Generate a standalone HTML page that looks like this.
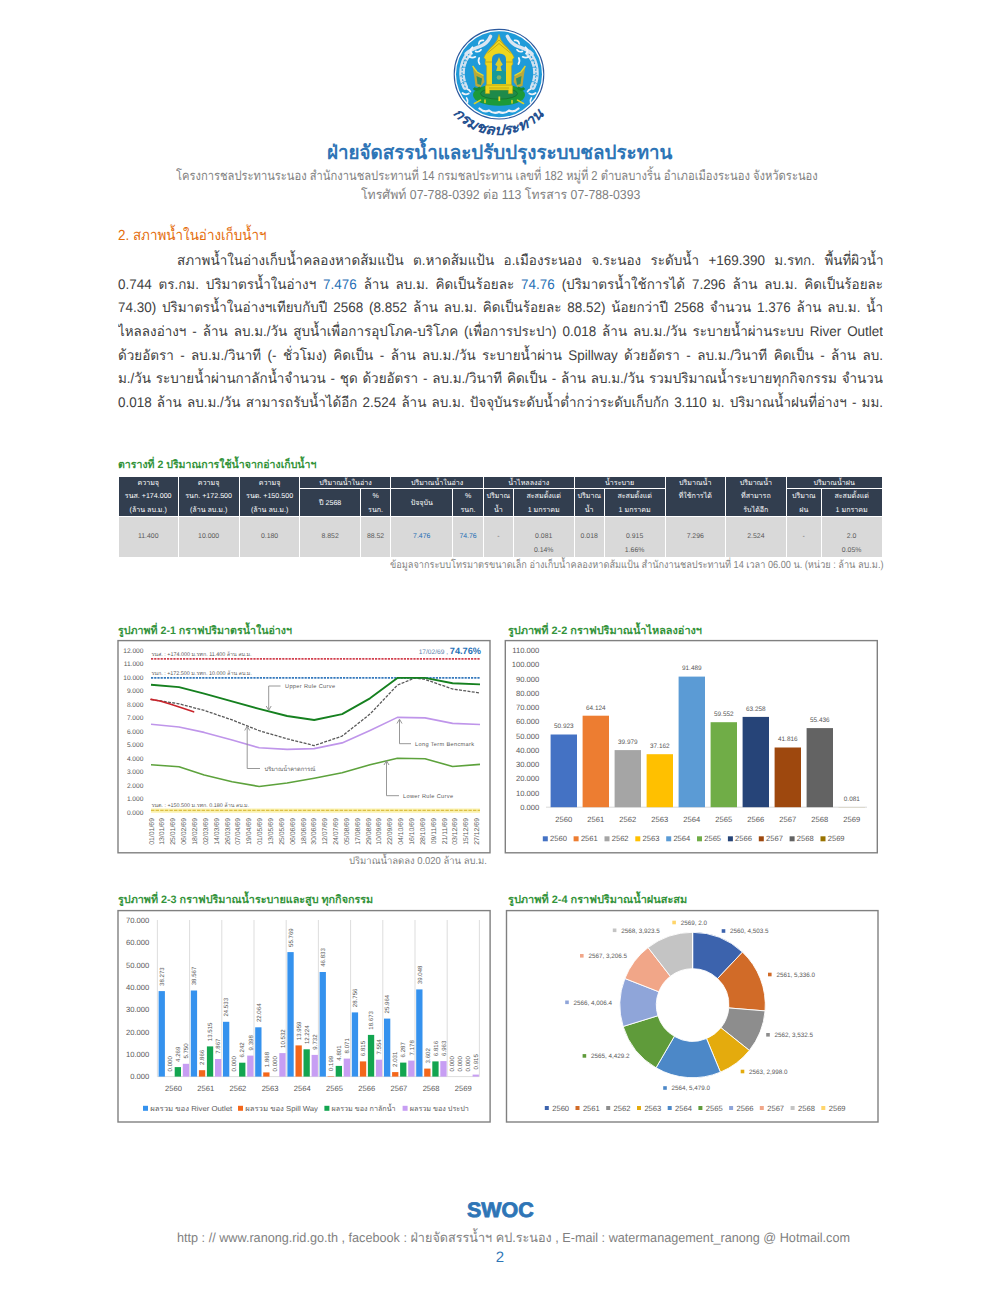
<!DOCTYPE html>
<html lang="th"><head><meta charset="utf-8"><title>SWOC</title>
<style>
html,body{margin:0;padding:0;background:#fff;}
body{width:1000px;height:1293px;position:relative;overflow:hidden;font-family:"Liberation Sans",sans-serif;color:#404040;text-rendering:geometricPrecision;}
.a{position:absolute;white-space:nowrap;line-height:1;}
.c{text-align:center;}
.pl{font-size:14px;color:#404040;text-align:justify;text-align-last:justify;overflow:hidden;height:22px;line-height:22px;transform-origin:0 0;transform:scaleX(0.96);}
.pl b{font-weight:normal;color:#1f6fb5;}
svg{position:absolute;overflow:visible;}
svg text{font-family:"Liberation Sans",sans-serif;text-rendering:geometricPrecision;}
</style></head><body>
<div class="a" style="left:327.3px;top:144.0px;font-size:19.50px;color:#2e75b6;font-weight:bold;transform-origin:0 0;transform:scaleX(0.9622);">ฝ่ายจัดสรรน้ำและปรับปรุงระบบชลประทาน</div>
<div class="a" style="left:176.3px;top:169.2px;font-size:13.00px;color:#7f7f7f;transform-origin:0 0;transform:scaleX(0.8600);">โครงการชลประทานระนอง สำนักงานชลประทานที่ 14 กรมชลประทาน เลขที่ 182 หมู่ที่ 2 ตำบลบางริ้น อำเภอเมืองระนอง จังหวัดระนอง</div>
<div class="a" style="left:360.6px;top:187.9px;font-size:13.00px;color:#7f7f7f;transform-origin:0 0;transform:scaleX(0.9466);">โทรศัพท์ 07-788-0392 ต่อ 113 โทรสาร 07-788-0393</div>
<div class="a" style="left:118.0px;top:229.2px;font-size:14.60px;color:#e46c0a;transform-origin:0 0;transform:scaleX(0.9201);">2. สภาพน้ำในอ่างเก็บน้ำฯ</div>
<div class="a pl" style="left:176.5px;width:735.9px;top:248.8px;">สภาพน้ำในอ่างเก็บน้ำคลองหาดส้มแป้น ต.หาดส้มแป้น อ.เมืองระนอง จ.ระนอง ระดับน้ำ +169.390 ม.รทก. พื้นที่ผิวน้ำ</div>
<div class="a pl" style="left:118.0px;width:796.9px;top:272.5px;">0.744 ตร.กม. ปริมาตรน้ำในอ่างฯ <b>7.476</b> ล้าน ลบ.ม. คิดเป็นร้อยละ <b>74.76</b> (ปริมาตรน้ำใช้การได้ 7.296 ล้าน ลบ.ม. คิดเป็นร้อยละ</div>
<div class="a pl" style="left:118.0px;width:796.9px;top:296.2px;">74.30) ปริมาตรน้ำในอ่างฯเทียบกับปี 2568 (8.852 ล้าน ลบ.ม. คิดเป็นร้อยละ 88.52) น้อยกว่าปี 2568 จำนวน 1.376 ล้าน ลบ.ม. น้ำ</div>
<div class="a pl" style="left:118.0px;width:796.9px;top:319.9px;">ไหลลงอ่างฯ - ล้าน ลบ.ม./วัน สูบน้ำเพื่อการอุปโภค-บริโภค (เพื่อการประปา) 0.018 ล้าน ลบ.ม./วัน ระบายน้ำผ่านระบบ River Outlet</div>
<div class="a pl" style="left:118.0px;width:796.9px;top:343.6px;">ด้วยอัตรา - ลบ.ม./วินาที (- ชั่วโมง) คิดเป็น - ล้าน ลบ.ม./วัน ระบายน้ำผ่าน Spillway ด้วยอัตรา - ลบ.ม./วินาที คิดเป็น - ล้าน ลบ.</div>
<div class="a pl" style="left:118.0px;width:796.9px;top:367.3px;">ม./วัน ระบายน้ำผ่านกาลักน้ำจำนวน - ชุด ด้วยอัตรา - ลบ.ม./วินาที คิดเป็น - ล้าน ลบ.ม./วัน รวมปริมาณน้ำระบายทุกกิจกรรม จำนวน</div>
<div class="a pl" style="left:118.0px;width:796.9px;top:391.0px;">0.018 ล้าน ลบ.ม./วัน สามารถรับน้ำได้อีก 2.524 ล้าน ลบ.ม. ปัจจุบันระดับน้ำต่ำกว่าระดับเก็บกัก 3.110 ม. ปริมาณน้ำฝนที่อ่างฯ - มม.</div>
<svg style="left:440px;top:20px;" width="120" height="130" viewBox="440 20 120 130">
<circle cx="499" cy="74.2" r="44.8" fill="#fff" stroke="#2d5a9e" stroke-width="1.1"/>
<circle cx="499" cy="74.2" r="43" fill="#1f9bd9"/>
<g fill="none" stroke-linecap="round"><path d="M465.2,87 C459.8,76 461.4,62 469,54" stroke="#d3e2f0" stroke-width="5.6"/><path d="M465.2,87 C459.8,76 461.4,62 469,54" stroke="#1f9bd9" stroke-width="1.1" stroke-dasharray="1,2.4"/><path d="M461,84 q2,-3 5.5,-2.6 M460.2,76 q2.6,-2.4 5.8,-1.2 M461.2,68 q3,-2 5.6,0 M463.6,61 q3,-1.4 5.2,1" stroke="#1f9bd9" stroke-width="0.8"/><path d="M466,54 C470,49.5 476,48 480,46.5 C485,44.5 488.5,41 490.6,36.2" stroke="#dbe6f2" stroke-width="3.4"/><path d="M472,53.6 q-3.2,-3 0.6,-6.4 M475.6,51.4 q3.4,1.2 5.4,-1.6 M483.4,40.4 q-4,-0.4 -4.6,3.4 M469.4,56.8 q3,1.6 6,0" stroke="#f3f6fa" stroke-width="1.7"/><path d="M462.4,93 q3,2.4 6.4,0.4 M466.6,98 q1.8,2.4 0.8,4.6 M470.4,91.6 q-1,-2 -3,-2.4" stroke="#eef2f8" stroke-width="1.7"/><path d="M479.2,58 q-1.6,3 0.4,6" stroke="#f3f6fa" stroke-width="1.7"/></g>
<g transform="translate(998,0) scale(-1,1)"><g fill="none" stroke-linecap="round"><path d="M465.2,87 C459.8,76 461.4,62 469,54" stroke="#d3e2f0" stroke-width="5.6"/><path d="M465.2,87 C459.8,76 461.4,62 469,54" stroke="#1f9bd9" stroke-width="1.1" stroke-dasharray="1,2.4"/><path d="M461,84 q2,-3 5.5,-2.6 M460.2,76 q2.6,-2.4 5.8,-1.2 M461.2,68 q3,-2 5.6,0 M463.6,61 q3,-1.4 5.2,1" stroke="#1f9bd9" stroke-width="0.8"/><path d="M466,54 C470,49.5 476,48 480,46.5 C485,44.5 488.5,41 490.6,36.2" stroke="#dbe6f2" stroke-width="3.4"/><path d="M472,53.6 q-3.2,-3 0.6,-6.4 M475.6,51.4 q3.4,1.2 5.4,-1.6 M483.4,40.4 q-4,-0.4 -4.6,3.4 M469.4,56.8 q3,1.6 6,0" stroke="#f3f6fa" stroke-width="1.7"/><path d="M462.4,93 q3,2.4 6.4,0.4 M466.6,98 q1.8,2.4 0.8,4.6 M470.4,91.6 q-1,-2 -3,-2.4" stroke="#eef2f8" stroke-width="1.7"/><path d="M479.2,58 q-1.6,3 0.4,6" stroke="#f3f6fa" stroke-width="1.7"/></g></g>
<path d="M479.5,108.5 q5,4.5 9.5,2 q5,4 10,1.5 q5,2.5 10,-1.5 q4.5,2.5 9.5,-2" fill="none" stroke="#eef2f8" stroke-width="2.2" stroke-linecap="round"/>
<ellipse cx="499" cy="95" rx="26" ry="10.8" fill="#1c9a3a"/>
<ellipse cx="499" cy="93.6" rx="18.5" ry="5.6" fill="#1e8a4a" stroke="#14752c" stroke-width="0.9"/>
<path d="M474.5,103.5 l6,-3.4 M523.5,103.5 l-6,-3.4 M485,102.5 v-2.5 M512,103 v-2.5" stroke="#d8cf2a" stroke-width="1.6" stroke-linecap="round"/>
<rect x="498.4" y="96.5" width="1.8" height="4.6" fill="#e9da25"/>
<g><path d="M472.6,66 L477,72 L483.5,75.5 L484.5,82 L480,87.5 L475.5,86 L474.5,78 Z" fill="#b9a93a"/><path d="M476.5,76 L482,78.5 L481,85 L477.5,84 Z" fill="#2a8f6a"/><path d="M472.6,66 L477,72 L483.5,75.5" fill="none" stroke="#e8d92a" stroke-width="1.3"/><path d="M473.8,88 q3,3 6.5,-0.5" fill="none" stroke="#178a36" stroke-width="3"/></g>
<g transform="translate(998,0) scale(-1,1)"><g><path d="M472.6,66 L477,72 L483.5,75.5 L484.5,82 L480,87.5 L475.5,86 L474.5,78 Z" fill="#b9a93a"/><path d="M476.5,76 L482,78.5 L481,85 L477.5,84 Z" fill="#2a8f6a"/><path d="M472.6,66 L477,72 L483.5,75.5" fill="none" stroke="#e8d92a" stroke-width="1.3"/><path d="M473.8,88 q3,3 6.5,-0.5" fill="none" stroke="#178a36" stroke-width="3"/></g></g>
<path d="M499,34.3 L497.2,40 L494,44.5 L490.5,48 L487.6,51.5 L485.2,55 L484,57.5 L485.6,59.5 L485.2,64 L486.6,66 L486.6,84.5 L485.4,86 L485.4,93.6 L489.6,93.6 L489.6,90 L508.4,90 L508.4,93.6 L512.6,93.6 L512.6,86 L511.4,84.5 L511.4,66 L512.8,64 L512.4,59.5 L514,57.5 L512.8,55 L510.4,51.5 L507.5,48 L504,44.5 L500.8,40 Z" fill="#eed61d" stroke="#c4a512" stroke-width="0.5"/>
<path d="M490,48.5 L499,40 L508,48.5 M487.5,53 L499,43.5 L510.5,53 M486,62 H512 M486,85 H512 M489,88 H509" fill="none" stroke="#b79f12" stroke-width="0.8"/>
<path d="M492,84 V59 Q492,54 499,53.6 Q506,54 506,59 V84 Z" fill="#1f8fc9"/>
<path d="M492,84 V72 Q499,66 506,72 V84 Z" fill="#189a9a"/>
<path d="M499,57 L500.6,61 L502.8,64.5 L500.6,66.5 L501.8,71 L496.2,71 L497.4,66.5 L495.2,64.5 L497.4,61 Z" fill="#d9cc2e"/>
<circle cx="499" cy="77.5" r="2.3" fill="#7fb36a"/>
<path id="lgarc" d="M452.8,113.7 A60.8,60.8 0 0 0 546.9,111.6" fill="none"/>
<text font-size="14.6" font-weight="bold" font-style="italic" fill="#24508f"><textPath href="#lgarc" textLength="103" lengthAdjust="spacingAndGlyphs">กรมชลประทาน</textPath></text>
</svg>
<div class="a" style="left:118.3px;top:460.2px;font-size:10.80px;color:#33933a;font-weight:bold;transform-origin:0 0;transform:scaleX(0.9776);">ตารางที่ 2 ปริมาณการใช้น้ำจากอ่างเก็บน้ำฯ</div>
<div class="a" style="left:118.8px;top:476.6px;width:58.9px;height:39.2px;background:#323e4f;"></div>
<div class="a c" style="left:118.3px;width:59.8px;top:479.8px;font-size:7.1px;color:#ffffff;">ความจุ</div>
<div class="a c" style="left:118.3px;width:59.8px;top:493.4px;font-size:7.1px;color:#ffffff;">รนส. +174.000</div>
<div class="a c" style="left:118.3px;width:59.8px;top:506.7px;font-size:7.1px;color:#ffffff;">(ล้าน ลบ.ม.)</div>
<div class="a" style="left:178.5px;top:476.6px;width:60.2px;height:39.2px;background:#323e4f;"></div>
<div class="a c" style="left:178.1px;width:61.1px;top:479.8px;font-size:7.1px;color:#ffffff;">ความจุ</div>
<div class="a c" style="left:178.1px;width:61.1px;top:493.4px;font-size:7.1px;color:#ffffff;">รนก. +172.500</div>
<div class="a c" style="left:178.1px;width:61.1px;top:506.7px;font-size:7.1px;color:#ffffff;">(ล้าน ลบ.ม.)</div>
<div class="a" style="left:239.6px;top:476.6px;width:59.9px;height:39.2px;background:#323e4f;"></div>
<div class="a c" style="left:239.2px;width:60.8px;top:479.8px;font-size:7.1px;color:#ffffff;">ความจุ</div>
<div class="a c" style="left:239.2px;width:60.8px;top:493.4px;font-size:7.1px;color:#ffffff;">รนต. +150.500</div>
<div class="a c" style="left:239.2px;width:60.8px;top:506.7px;font-size:7.1px;color:#ffffff;">(ล้าน ลบ.ม.)</div>
<div class="a" style="left:300.4px;top:476.6px;width:89.9px;height:11.9px;background:#323e4f;"></div>
<div class="a c" style="left:300.0px;width:90.8px;top:479.8px;font-size:7.1px;color:#ffffff;">ปริมาณน้ำในอ่าง</div>
<div class="a" style="left:300.4px;top:489.4px;width:59.4px;height:26.3px;background:#323e4f;"></div>
<div class="a c" style="left:300.0px;width:60.3px;top:499.8px;font-size:7.1px;color:#ffffff;">ปี 2568</div>
<div class="a" style="left:360.8px;top:489.4px;width:29.6px;height:26.3px;background:#323e4f;"></div>
<div class="a c" style="left:360.3px;width:30.5px;top:493.4px;font-size:7.1px;color:#ffffff;">%</div>
<div class="a c" style="left:360.3px;width:30.5px;top:506.7px;font-size:7.1px;color:#ffffff;">รนก.</div>
<div class="a" style="left:391.2px;top:476.6px;width:91.7px;height:11.9px;background:#323e4f;"></div>
<div class="a c" style="left:390.8px;width:92.6px;top:479.8px;font-size:7.1px;color:#ffffff;">ปริมาณน้ำในอ่าง</div>
<div class="a" style="left:391.2px;top:489.4px;width:61.0px;height:26.3px;background:#323e4f;"></div>
<div class="a c" style="left:390.8px;width:61.9px;top:499.8px;font-size:7.1px;color:#ffffff;">ปัจจุบัน</div>
<div class="a" style="left:453.1px;top:489.4px;width:29.8px;height:26.3px;background:#323e4f;"></div>
<div class="a c" style="left:452.7px;width:30.7px;top:493.4px;font-size:7.1px;color:#ffffff;">%</div>
<div class="a c" style="left:452.7px;width:30.7px;top:506.7px;font-size:7.1px;color:#ffffff;">รนก.</div>
<div class="a" style="left:483.8px;top:476.6px;width:89.8px;height:11.9px;background:#323e4f;"></div>
<div class="a c" style="left:483.4px;width:90.7px;top:479.8px;font-size:7.1px;color:#ffffff;">น้ำไหลลงอ่าง</div>
<div class="a" style="left:483.8px;top:489.4px;width:29.0px;height:26.3px;background:#323e4f;"></div>
<div class="a c" style="left:483.4px;width:29.9px;top:493.4px;font-size:7.1px;color:#ffffff;">ปริมาณ</div>
<div class="a c" style="left:483.4px;width:29.9px;top:506.7px;font-size:7.1px;color:#ffffff;">น้ำ</div>
<div class="a" style="left:513.8px;top:489.4px;width:59.9px;height:26.3px;background:#323e4f;"></div>
<div class="a c" style="left:513.3px;width:60.8px;top:493.4px;font-size:7.1px;color:#ffffff;">สะสมตั้งแต่</div>
<div class="a c" style="left:513.3px;width:60.8px;top:506.7px;font-size:7.1px;color:#ffffff;">1 มกราคม</div>
<div class="a" style="left:574.6px;top:476.6px;width:90.0px;height:11.9px;background:#323e4f;"></div>
<div class="a c" style="left:574.1px;width:90.9px;top:479.8px;font-size:7.1px;color:#ffffff;">น้ำระบาย</div>
<div class="a" style="left:574.6px;top:489.4px;width:29.3px;height:26.3px;background:#323e4f;"></div>
<div class="a c" style="left:574.1px;width:30.2px;top:493.4px;font-size:7.1px;color:#ffffff;">ปริมาณ</div>
<div class="a c" style="left:574.1px;width:30.2px;top:506.7px;font-size:7.1px;color:#ffffff;">น้ำ</div>
<div class="a" style="left:604.8px;top:489.4px;width:59.8px;height:26.3px;background:#323e4f;"></div>
<div class="a c" style="left:604.3px;width:60.7px;top:493.4px;font-size:7.1px;color:#ffffff;">สะสมตั้งแต่</div>
<div class="a c" style="left:604.3px;width:60.7px;top:506.7px;font-size:7.1px;color:#ffffff;">1 มกราคม</div>
<div class="a" style="left:786.7px;top:476.6px;width:94.9px;height:11.9px;background:#323e4f;"></div>
<div class="a c" style="left:786.2px;width:95.8px;top:479.8px;font-size:7.1px;color:#ffffff;">ปริมาณน้ำฝน</div>
<div class="a" style="left:786.7px;top:489.4px;width:34.2px;height:26.3px;background:#323e4f;"></div>
<div class="a c" style="left:786.2px;width:35.1px;top:493.4px;font-size:7.1px;color:#ffffff;">ปริมาณ</div>
<div class="a c" style="left:786.2px;width:35.1px;top:506.7px;font-size:7.1px;color:#ffffff;">ฝน</div>
<div class="a" style="left:821.8px;top:489.4px;width:59.8px;height:26.3px;background:#323e4f;"></div>
<div class="a c" style="left:821.3px;width:60.7px;top:493.4px;font-size:7.1px;color:#ffffff;">สะสมตั้งแต่</div>
<div class="a c" style="left:821.3px;width:60.7px;top:506.7px;font-size:7.1px;color:#ffffff;">1 มกราคม</div>
<div class="a" style="left:665.5px;top:476.6px;width:59.6px;height:39.2px;background:#323e4f;"></div>
<div class="a c" style="left:665.0px;width:60.5px;top:479.8px;font-size:7.1px;color:#ffffff;">ปริมาณน้ำ</div>
<div class="a c" style="left:665.0px;width:60.5px;top:493.4px;font-size:7.1px;color:#ffffff;">ที่ใช้การได้</div>
<div class="a" style="left:726.0px;top:476.6px;width:59.8px;height:39.2px;background:#323e4f;"></div>
<div class="a c" style="left:725.5px;width:60.7px;top:479.8px;font-size:7.1px;color:#ffffff;">ปริมาณน้ำ</div>
<div class="a c" style="left:725.5px;width:60.7px;top:493.4px;font-size:7.1px;color:#ffffff;">ที่สามารถ</div>
<div class="a c" style="left:725.5px;width:60.7px;top:506.7px;font-size:7.1px;color:#ffffff;">รับได้อีก</div>
<div class="a" style="left:118.8px;top:517.0px;width:58.9px;height:40.3px;background:#d9d9d9;"></div>
<div class="a c" style="left:118.3px;width:59.8px;top:534.1px;font-size:6.9px;color:#595959;">11.400</div>
<div class="a" style="left:178.5px;top:517.0px;width:60.2px;height:40.3px;background:#d9d9d9;"></div>
<div class="a c" style="left:178.1px;width:61.1px;top:534.1px;font-size:6.9px;color:#595959;">10.000</div>
<div class="a" style="left:239.6px;top:517.0px;width:59.9px;height:40.3px;background:#d9d9d9;"></div>
<div class="a c" style="left:239.2px;width:60.8px;top:534.1px;font-size:6.9px;color:#595959;">0.180</div>
<div class="a" style="left:300.4px;top:517.0px;width:59.4px;height:40.3px;background:#d9d9d9;"></div>
<div class="a c" style="left:300.0px;width:60.3px;top:534.1px;font-size:6.9px;color:#595959;">8.852</div>
<div class="a" style="left:360.8px;top:517.0px;width:29.6px;height:40.3px;background:#d9d9d9;"></div>
<div class="a c" style="left:360.3px;width:30.5px;top:534.1px;font-size:6.9px;color:#595959;">88.52</div>
<div class="a" style="left:391.2px;top:517.0px;width:61.0px;height:40.3px;background:#d9d9d9;"></div>
<div class="a c" style="left:390.8px;width:61.9px;top:534.1px;font-size:6.9px;color:#1f6fb5;">7.476</div>
<div class="a" style="left:453.1px;top:517.0px;width:29.8px;height:40.3px;background:#d9d9d9;"></div>
<div class="a c" style="left:452.7px;width:30.7px;top:534.1px;font-size:6.9px;color:#1f6fb5;">74.76</div>
<div class="a" style="left:483.8px;top:517.0px;width:29.0px;height:40.3px;background:#d9d9d9;"></div>
<div class="a c" style="left:483.4px;width:29.9px;top:534.1px;font-size:6.9px;color:#595959;">-</div>
<div class="a" style="left:513.8px;top:517.0px;width:59.9px;height:40.3px;background:#d9d9d9;"></div>
<div class="a c" style="left:513.3px;width:60.8px;top:534.1px;font-size:6.9px;color:#595959;">0.081</div>
<div class="a c" style="left:513.3px;width:60.8px;top:548.1px;font-size:6.9px;color:#595959;">0.14%</div>
<div class="a" style="left:574.6px;top:517.0px;width:29.3px;height:40.3px;background:#d9d9d9;"></div>
<div class="a c" style="left:574.1px;width:30.2px;top:534.1px;font-size:6.9px;color:#595959;">0.018</div>
<div class="a" style="left:604.8px;top:517.0px;width:59.8px;height:40.3px;background:#d9d9d9;"></div>
<div class="a c" style="left:604.3px;width:60.7px;top:534.1px;font-size:6.9px;color:#595959;">0.915</div>
<div class="a c" style="left:604.3px;width:60.7px;top:548.1px;font-size:6.9px;color:#595959;">1.66%</div>
<div class="a" style="left:665.5px;top:517.0px;width:59.6px;height:40.3px;background:#d9d9d9;"></div>
<div class="a c" style="left:665.0px;width:60.5px;top:534.1px;font-size:6.9px;color:#595959;">7.296</div>
<div class="a" style="left:726.0px;top:517.0px;width:59.8px;height:40.3px;background:#d9d9d9;"></div>
<div class="a c" style="left:725.5px;width:60.7px;top:534.1px;font-size:6.9px;color:#595959;">2.524</div>
<div class="a" style="left:786.7px;top:517.0px;width:34.2px;height:40.3px;background:#d9d9d9;"></div>
<div class="a c" style="left:786.2px;width:35.1px;top:534.1px;font-size:6.9px;color:#595959;">-</div>
<div class="a" style="left:821.8px;top:517.0px;width:59.8px;height:40.3px;background:#d9d9d9;"></div>
<div class="a c" style="left:821.3px;width:60.7px;top:534.1px;font-size:6.9px;color:#595959;">2.0</div>
<div class="a c" style="left:821.3px;width:60.7px;top:548.1px;font-size:6.9px;color:#595959;">0.05%</div>
<div class="a" style="left:389.5px;top:560.7px;font-size:10.30px;color:#7f7f7f;transform-origin:0 0;transform:scaleX(0.8904);">ข้อมูลจากระบบโทรมาตรขนาดเล็ก อ่างเก็บน้ำคลองหาดส้มแป้น สำนักงานชลประทานที่ 14 เวลา 06.00 น. (หน่วย : ล้าน ลบ.ม.)</div>
<div class="a" style="left:118.0px;top:625.5px;font-size:10.80px;color:#33933a;font-weight:bold;transform-origin:0 0;transform:scaleX(0.9867);">รูปภาพที่ 2-1 กราฟปริมาตรน้ำในอ่างฯ</div>
<svg style="left:0;top:600px;" width="1000" height="280" viewBox="0 600 1000 280">
<rect x="118" y="640.6" width="372" height="212.2" fill="#fff" stroke="#808080" stroke-width="1.4"/>
<text x="143.4" y="814.7" font-size="6.6" fill="#595959" text-anchor="end">0.000</text>
<text x="143.4" y="801.2" font-size="6.6" fill="#595959" text-anchor="end">1.000</text>
<text x="143.4" y="787.7" font-size="6.6" fill="#595959" text-anchor="end">2.000</text>
<text x="143.4" y="774.2" font-size="6.6" fill="#595959" text-anchor="end">3.000</text>
<text x="143.4" y="760.7" font-size="6.6" fill="#595959" text-anchor="end">4.000</text>
<text x="143.4" y="747.2" font-size="6.6" fill="#595959" text-anchor="end">5.000</text>
<text x="143.4" y="733.7" font-size="6.6" fill="#595959" text-anchor="end">6.000</text>
<text x="143.4" y="720.2" font-size="6.6" fill="#595959" text-anchor="end">7.000</text>
<text x="143.4" y="706.8" font-size="6.6" fill="#595959" text-anchor="end">8.000</text>
<text x="143.4" y="693.3" font-size="6.6" fill="#595959" text-anchor="end">9.000</text>
<text x="143.4" y="679.8" font-size="6.6" fill="#595959" text-anchor="end">10.000</text>
<text x="143.4" y="666.3" font-size="6.6" fill="#595959" text-anchor="end">11.000</text>
<text x="143.4" y="652.8" font-size="6.6" fill="#595959" text-anchor="end">12.000</text>
<line x1="151" x2="480" y1="658.9" y2="658.9" stroke="#d2414f" stroke-width="1.9" stroke-dasharray="2.2,1"/>
<line x1="151" x2="480" y1="677.8" y2="677.8" stroke="#3579bd" stroke-width="1.7" stroke-dasharray="2.2,1"/>
<line x1="151" x2="480" y1="810.6" y2="810.6" stroke="#fbf2ad" stroke-width="4.2"/>
<line x1="151" x2="480" y1="810.4" y2="810.4" stroke="#dcbf45" stroke-width="1.1" stroke-dasharray="3.4,1.2"/>
<text x="151.4" y="656" font-size="5.4" fill="#595959">รนส. : +174.000 ม.รทก. 11.400 ล้าน ลบ.ม.</text>
<text x="151.4" y="675" font-size="5.4" fill="#595959">รนก. : +172.500 ม.รทก. 10.000 ล้าน ลบ.ม.</text>
<text x="151.4" y="806.6" font-size="5.4" fill="#595959">รนต. : +150.500 ม.รทก. 0.180 ล้าน ลบ.ม.</text>
<polyline points="151.0,764.7 179.0,766.8 204.2,775.0 232.1,781.7 259.2,786.5 287.1,783.0 314.2,778.2 342.1,772.8 370.0,764.7 397.4,758.3 425.0,758.7 452.6,766.5 480.0,764.4" fill="none" stroke="#5da23c" stroke-width="1.6" stroke-linejoin="round"/>
<polyline points="151.0,724.2 179.0,727.0 204.2,732.4 232.1,740.1 259.2,747.8 287.1,749.4 314.2,748.6 342.1,742.9 370.0,730.4 397.4,717.4 425.0,717.9 452.6,723.4 480.0,724.5" fill="none" stroke="#bf95ea" stroke-width="1.6" stroke-linejoin="round"/>
<polyline points="151.0,699.4 179.0,703.8 204.2,710.4 232.1,719.9 259.2,730.7 287.1,738.8 314.2,745.6 342.1,736.1 370.0,714.1 397.4,685.1 415.0,677.9 425.0,679.4 452.6,689.0 480.0,693.0" fill="none" stroke="#595959" stroke-width="1.3" stroke-dasharray="3,1.3" stroke-linejoin="round"/>
<polyline points="151.0,684.7 179.0,687.1 204.2,693.6 232.1,701.4 259.2,708.9 287.1,716.0 314.2,720.0 342.1,714.1 370.0,698.3 397.4,677.9 425.0,677.9 452.6,683.3 480.0,684.4" fill="none" stroke="#15801f" stroke-width="1.9" stroke-linejoin="round"/>
<polyline points="151,699.3 160,701 170,704 180,707.2 193.6,711.8" fill="none" stroke="#c8242b" stroke-width="1.7" stroke-linecap="round"/>
<path d="M280.5,686 H268.7 V709.5 M266.2,706 L268.7,710.2 L271.2,706" stroke="#8c8c8c" stroke-width="0.9" fill="none"/>
<text x="285" y="688" font-size="5.6" fill="#595959" letter-spacing="0.35">Upper Rule Curve</text>
<path d="M260,768.5 H247.2 V727 M244.7,730.5 L247.2,726.2 L249.7,730.5" stroke="#8c8c8c" stroke-width="0.9" fill="none"/>
<text x="264.6" y="770.6" font-size="5.6" fill="#595959">ปริมาณน้ำคาดการณ์</text>
<path d="M411,743.7 H399.5 V720 M397,723.5 L399.5,719.2 L402,723.5" stroke="#8c8c8c" stroke-width="0.9" fill="none"/>
<text x="415" y="746" font-size="5.6" fill="#595959" letter-spacing="0.35">Long Term Bencmark</text>
<path d="M399,795.7 H386.5 V761.4 M384,765 L386.5,760.7 L389,765" stroke="#8c8c8c" stroke-width="0.9" fill="none"/>
<text x="403" y="797.8" font-size="5.6" fill="#595959" letter-spacing="0.35">Lower Rule Curve</text>
<text x="481" y="653.6" text-anchor="end" fill="#1f6fb5"><tspan font-size="6.6" fill="#5b84ab">17/02/69 , </tspan><tspan font-size="9.2" font-weight="bold">74.76%</tspan></text>
<text transform="translate(153.6,818) rotate(-90)" font-size="6.9" fill="#595959" text-anchor="end">01/01/69</text>
<text transform="translate(164.4,818) rotate(-90)" font-size="6.9" fill="#595959" text-anchor="end">13/01/69</text>
<text transform="translate(175.3,818) rotate(-90)" font-size="6.9" fill="#595959" text-anchor="end">25/01/69</text>
<text transform="translate(186.2,818) rotate(-90)" font-size="6.9" fill="#595959" text-anchor="end">06/02/69</text>
<text transform="translate(197.0,818) rotate(-90)" font-size="6.9" fill="#595959" text-anchor="end">18/02/69</text>
<text transform="translate(207.8,818) rotate(-90)" font-size="6.9" fill="#595959" text-anchor="end">02/03/69</text>
<text transform="translate(218.7,818) rotate(-90)" font-size="6.9" fill="#595959" text-anchor="end">14/03/69</text>
<text transform="translate(229.5,818) rotate(-90)" font-size="6.9" fill="#595959" text-anchor="end">26/03/69</text>
<text transform="translate(240.4,818) rotate(-90)" font-size="6.9" fill="#595959" text-anchor="end">07/04/69</text>
<text transform="translate(251.2,818) rotate(-90)" font-size="6.9" fill="#595959" text-anchor="end">19/04/69</text>
<text transform="translate(262.1,818) rotate(-90)" font-size="6.9" fill="#595959" text-anchor="end">01/05/69</text>
<text transform="translate(272.9,818) rotate(-90)" font-size="6.9" fill="#595959" text-anchor="end">13/05/69</text>
<text transform="translate(283.8,818) rotate(-90)" font-size="6.9" fill="#595959" text-anchor="end">25/05/69</text>
<text transform="translate(294.6,818) rotate(-90)" font-size="6.9" fill="#595959" text-anchor="end">06/06/69</text>
<text transform="translate(305.5,818) rotate(-90)" font-size="6.9" fill="#595959" text-anchor="end">18/06/69</text>
<text transform="translate(316.3,818) rotate(-90)" font-size="6.9" fill="#595959" text-anchor="end">30/06/69</text>
<text transform="translate(327.2,818) rotate(-90)" font-size="6.9" fill="#595959" text-anchor="end">12/07/69</text>
<text transform="translate(338.0,818) rotate(-90)" font-size="6.9" fill="#595959" text-anchor="end">24/07/69</text>
<text transform="translate(348.9,818) rotate(-90)" font-size="6.9" fill="#595959" text-anchor="end">05/08/69</text>
<text transform="translate(359.8,818) rotate(-90)" font-size="6.9" fill="#595959" text-anchor="end">17/08/69</text>
<text transform="translate(370.6,818) rotate(-90)" font-size="6.9" fill="#595959" text-anchor="end">29/08/69</text>
<text transform="translate(381.4,818) rotate(-90)" font-size="6.9" fill="#595959" text-anchor="end">10/09/69</text>
<text transform="translate(392.3,818) rotate(-90)" font-size="6.9" fill="#595959" text-anchor="end">22/09/69</text>
<text transform="translate(403.1,818) rotate(-90)" font-size="6.9" fill="#595959" text-anchor="end">04/10/69</text>
<text transform="translate(414.0,818) rotate(-90)" font-size="6.9" fill="#595959" text-anchor="end">16/10/69</text>
<text transform="translate(424.8,818) rotate(-90)" font-size="6.9" fill="#595959" text-anchor="end">28/10/69</text>
<text transform="translate(435.7,818) rotate(-90)" font-size="6.9" fill="#595959" text-anchor="end">09/11/69</text>
<text transform="translate(446.5,818) rotate(-90)" font-size="6.9" fill="#595959" text-anchor="end">21/11/69</text>
<text transform="translate(457.4,818) rotate(-90)" font-size="6.9" fill="#595959" text-anchor="end">03/12/69</text>
<text transform="translate(468.2,818) rotate(-90)" font-size="6.9" fill="#595959" text-anchor="end">15/12/69</text>
<text transform="translate(479.1,818) rotate(-90)" font-size="6.9" fill="#595959" text-anchor="end">27/12/69</text>
</svg>
<div class="a" style="left:349.0px;top:857.1px;font-size:10.00px;color:#7f7f7f;transform-origin:0 0;transform:scaleX(0.9461);">ปริมาณน้ำลดลง 0.020 ล้าน ลบ.ม.</div>
<div class="a" style="left:508.0px;top:625.5px;font-size:10.80px;color:#33933a;font-weight:bold;transform-origin:0 0;transform:scaleX(1.0107);">รูปภาพที่ 2-2 กราฟปริมาณน้ำไหลลงอ่างฯ</div>
<svg style="left:0;top:600px;" width="1000" height="280" viewBox="0 600 1000 280">
<rect x="505.3" y="640.6" width="372" height="212.2" fill="#fff" stroke="#808080" stroke-width="1.4"/>
<text x="539.2" y="809.9" font-size="7.6" fill="#595959" text-anchor="end">0.000</text>
<text x="539.2" y="795.6" font-size="7.6" fill="#595959" text-anchor="end">10.000</text>
<text x="539.2" y="781.4" font-size="7.6" fill="#595959" text-anchor="end">20.000</text>
<text x="539.2" y="767.1" font-size="7.6" fill="#595959" text-anchor="end">30.000</text>
<text x="539.2" y="752.8" font-size="7.6" fill="#595959" text-anchor="end">40.000</text>
<text x="539.2" y="738.6" font-size="7.6" fill="#595959" text-anchor="end">50.000</text>
<text x="539.2" y="724.3" font-size="7.6" fill="#595959" text-anchor="end">60.000</text>
<text x="539.2" y="710.0" font-size="7.6" fill="#595959" text-anchor="end">70.000</text>
<text x="539.2" y="695.7" font-size="7.6" fill="#595959" text-anchor="end">80.000</text>
<text x="539.2" y="681.5" font-size="7.6" fill="#595959" text-anchor="end">90.000</text>
<text x="539.2" y="667.2" font-size="7.6" fill="#595959" text-anchor="end">100.000</text>
<text x="539.2" y="652.9" font-size="7.6" fill="#595959" text-anchor="end">110.000</text>
<line x1="546" x2="867" y1="807.2" y2="807.2" stroke="#d9d9d9" stroke-width="1"/>
<rect x="550.6" y="734.5" width="26.4" height="72.7" fill="#4472c4"/>
<text x="563.8" y="728.3" font-size="6.4" fill="#595959" text-anchor="middle">50.923</text>
<text x="563.8" y="822.1" font-size="7.6" fill="#595959" text-anchor="middle">2560</text>
<rect x="542.8" y="836.3" width="5" height="5" fill="#4472c4"/>
<text x="550.0" y="841.3" font-size="7.6" fill="#595959">2560</text>
<rect x="582.6" y="715.7" width="26.4" height="91.5" fill="#ed7d31"/>
<text x="595.8" y="709.5" font-size="6.4" fill="#595959" text-anchor="middle">64.124</text>
<text x="595.8" y="822.1" font-size="7.6" fill="#595959" text-anchor="middle">2561</text>
<rect x="573.6" y="836.3" width="5" height="5" fill="#ed7d31"/>
<text x="580.9" y="841.3" font-size="7.6" fill="#595959">2561</text>
<rect x="614.6" y="750.1" width="26.4" height="57.1" fill="#a5a5a5"/>
<text x="627.8" y="743.9" font-size="6.4" fill="#595959" text-anchor="middle">39.979</text>
<text x="627.8" y="822.1" font-size="7.6" fill="#595959" text-anchor="middle">2562</text>
<rect x="604.5" y="836.3" width="5" height="5" fill="#a5a5a5"/>
<text x="611.7" y="841.3" font-size="7.6" fill="#595959">2562</text>
<rect x="646.6" y="754.2" width="26.4" height="53.0" fill="#ffc000"/>
<text x="659.8" y="748.0" font-size="6.4" fill="#595959" text-anchor="middle">37.162</text>
<text x="659.8" y="822.1" font-size="7.6" fill="#595959" text-anchor="middle">2563</text>
<rect x="635.3" y="836.3" width="5" height="5" fill="#ffc000"/>
<text x="642.5" y="841.3" font-size="7.6" fill="#595959">2563</text>
<rect x="678.6" y="676.6" width="26.4" height="130.6" fill="#5b9bd5"/>
<text x="691.8" y="670.4" font-size="6.4" fill="#595959" text-anchor="middle">91.489</text>
<text x="691.8" y="822.1" font-size="7.6" fill="#595959" text-anchor="middle">2564</text>
<rect x="666.2" y="836.3" width="5" height="5" fill="#5b9bd5"/>
<text x="673.4" y="841.3" font-size="7.6" fill="#595959">2564</text>
<rect x="710.6" y="722.2" width="26.4" height="85.0" fill="#70ad47"/>
<text x="723.8" y="716.0" font-size="6.4" fill="#595959" text-anchor="middle">59.552</text>
<text x="723.8" y="822.1" font-size="7.6" fill="#595959" text-anchor="middle">2565</text>
<rect x="697.0" y="836.3" width="5" height="5" fill="#70ad47"/>
<text x="704.2" y="841.3" font-size="7.6" fill="#595959">2565</text>
<rect x="742.6" y="716.9" width="26.4" height="90.3" fill="#264478"/>
<text x="755.8" y="710.7" font-size="6.4" fill="#595959" text-anchor="middle">63.258</text>
<text x="755.8" y="822.1" font-size="7.6" fill="#595959" text-anchor="middle">2566</text>
<rect x="727.9" y="836.3" width="5" height="5" fill="#264478"/>
<text x="735.1" y="841.3" font-size="7.6" fill="#595959">2566</text>
<rect x="774.6" y="747.5" width="26.4" height="59.7" fill="#9e480e"/>
<text x="787.8" y="741.3" font-size="6.4" fill="#595959" text-anchor="middle">41.816</text>
<text x="787.8" y="822.1" font-size="7.6" fill="#595959" text-anchor="middle">2567</text>
<rect x="758.8" y="836.3" width="5" height="5" fill="#9e480e"/>
<text x="766.0" y="841.3" font-size="7.6" fill="#595959">2567</text>
<rect x="806.6" y="728.1" width="26.4" height="79.1" fill="#636363"/>
<text x="819.8" y="721.9" font-size="6.4" fill="#595959" text-anchor="middle">55.436</text>
<text x="819.8" y="822.1" font-size="7.6" fill="#595959" text-anchor="middle">2568</text>
<rect x="789.6" y="836.3" width="5" height="5" fill="#636363"/>
<text x="796.8" y="841.3" font-size="7.6" fill="#595959">2568</text>
<rect x="838.6" y="807.1" width="26.4" height="0.1" fill="#997300"/>
<text x="851.8" y="800.9" font-size="6.4" fill="#595959" text-anchor="middle">0.081</text>
<text x="851.8" y="822.1" font-size="7.6" fill="#595959" text-anchor="middle">2569</text>
<rect x="820.5" y="836.3" width="5" height="5" fill="#997300"/>
<text x="827.7" y="841.3" font-size="7.6" fill="#595959">2569</text>
</svg>
<div class="a" style="left:118.0px;top:895.3px;font-size:10.80px;color:#33933a;font-weight:bold;transform-origin:0 0;transform:scaleX(0.9991);">รูปภาพที่ 2-3 กราฟปริมาณน้ำระบายและสูบ ทุกกิจกรรม</div>
<svg style="left:0;top:880px;" width="1000" height="260" viewBox="0 880 1000 260">
<rect x="118" y="910.6" width="372.1" height="211.4" fill="#fff" stroke="#808080" stroke-width="1.4"/>
<text x="149.2" y="1079.3" font-size="7.6" fill="#595959" text-anchor="end">0.000</text>
<text x="149.2" y="1057.0" font-size="7.6" fill="#595959" text-anchor="end">10.000</text>
<text x="149.2" y="1034.6" font-size="7.6" fill="#595959" text-anchor="end">20.000</text>
<text x="149.2" y="1012.3" font-size="7.6" fill="#595959" text-anchor="end">30.000</text>
<text x="149.2" y="990.0" font-size="7.6" fill="#595959" text-anchor="end">40.000</text>
<text x="149.2" y="967.6" font-size="7.6" fill="#595959" text-anchor="end">50.000</text>
<text x="149.2" y="945.3" font-size="7.6" fill="#595959" text-anchor="end">60.000</text>
<text x="149.2" y="923.0" font-size="7.6" fill="#595959" text-anchor="end">70.000</text>
<line x1="157.4" x2="157.4" y1="920" y2="1076.6" stroke="#d9d9d9" stroke-width="0.9"/>
<line x1="189.6" x2="189.6" y1="920" y2="1076.6" stroke="#d9d9d9" stroke-width="0.9"/>
<line x1="221.8" x2="221.8" y1="920" y2="1076.6" stroke="#d9d9d9" stroke-width="0.9"/>
<line x1="254.0" x2="254.0" y1="920" y2="1076.6" stroke="#d9d9d9" stroke-width="0.9"/>
<line x1="286.2" x2="286.2" y1="920" y2="1076.6" stroke="#d9d9d9" stroke-width="0.9"/>
<line x1="318.4" x2="318.4" y1="920" y2="1076.6" stroke="#d9d9d9" stroke-width="0.9"/>
<line x1="350.6" x2="350.6" y1="920" y2="1076.6" stroke="#d9d9d9" stroke-width="0.9"/>
<line x1="382.8" x2="382.8" y1="920" y2="1076.6" stroke="#d9d9d9" stroke-width="0.9"/>
<line x1="415.0" x2="415.0" y1="920" y2="1076.6" stroke="#d9d9d9" stroke-width="0.9"/>
<line x1="447.2" x2="447.2" y1="920" y2="1076.6" stroke="#d9d9d9" stroke-width="0.9"/>
<line x1="479.4" x2="479.4" y1="920" y2="1076.6" stroke="#d9d9d9" stroke-width="0.9"/>
<line x1="157.4" x2="479.4" y1="1076.6" y2="1076.6" stroke="#d9d9d9" stroke-width="0.9"/>
<rect x="158.6" y="991.1" width="6.3" height="85.5" fill="#3592ee"/>
<text transform="translate(163.9,985.9) rotate(-90)" font-size="6.1" fill="#595959">38.273</text>
<text transform="translate(172.0,1071.4) rotate(-90)" font-size="6.1" fill="#595959">0.000</text>
<rect x="174.7" y="1067.1" width="6.3" height="9.5" fill="#13a550"/>
<text transform="translate(180.0,1061.9) rotate(-90)" font-size="6.1" fill="#595959">4.269</text>
<rect x="182.8" y="1063.8" width="6.3" height="12.8" fill="#c79ef3"/>
<text transform="translate(188.1,1058.6) rotate(-90)" font-size="6.1" fill="#595959">5.750</text>
<text x="173.5" y="1091.3" font-size="7.6" fill="#595959" text-anchor="middle">2560</text>
<rect x="190.8" y="990.5" width="6.3" height="86.1" fill="#3592ee"/>
<text transform="translate(196.1,985.3) rotate(-90)" font-size="6.1" fill="#595959">38.567</text>
<rect x="198.9" y="1070.2" width="6.3" height="6.4" fill="#f4671b"/>
<text transform="translate(204.2,1065.0) rotate(-90)" font-size="6.1" fill="#595959">2.866</text>
<rect x="206.9" y="1046.4" width="6.3" height="30.2" fill="#13a550"/>
<text transform="translate(212.2,1041.2) rotate(-90)" font-size="6.1" fill="#595959">13.515</text>
<rect x="215.0" y="1059.0" width="6.3" height="17.6" fill="#c79ef3"/>
<text transform="translate(220.3,1053.8) rotate(-90)" font-size="6.1" fill="#595959">7.867</text>
<text x="205.7" y="1091.3" font-size="7.6" fill="#595959" text-anchor="middle">2561</text>
<rect x="223.0" y="1021.8" width="6.3" height="54.8" fill="#3592ee"/>
<text transform="translate(228.3,1016.6) rotate(-90)" font-size="6.1" fill="#595959">24.533</text>
<text transform="translate(236.4,1071.4) rotate(-90)" font-size="6.1" fill="#595959">0.000</text>
<rect x="239.1" y="1062.7" width="6.3" height="13.9" fill="#13a550"/>
<text transform="translate(244.4,1057.5) rotate(-90)" font-size="6.1" fill="#595959">6.242</text>
<rect x="247.2" y="1055.6" width="6.3" height="21.0" fill="#c79ef3"/>
<text transform="translate(252.5,1050.4) rotate(-90)" font-size="6.1" fill="#595959">9.398</text>
<text x="237.9" y="1091.3" font-size="7.6" fill="#595959" text-anchor="middle">2562</text>
<rect x="255.2" y="1027.3" width="6.3" height="49.3" fill="#3592ee"/>
<text transform="translate(260.5,1022.1) rotate(-90)" font-size="6.1" fill="#595959">22.064</text>
<rect x="263.2" y="1072.4" width="6.3" height="4.2" fill="#f4671b"/>
<text transform="translate(268.6,1067.2) rotate(-90)" font-size="6.1" fill="#595959">1.868</text>
<text transform="translate(276.6,1071.4) rotate(-90)" font-size="6.1" fill="#595959">0.000</text>
<rect x="279.3" y="1053.1" width="6.3" height="23.5" fill="#c79ef3"/>
<text transform="translate(284.6,1047.9) rotate(-90)" font-size="6.1" fill="#595959">10.532</text>
<text x="270.1" y="1091.3" font-size="7.6" fill="#595959" text-anchor="middle">2563</text>
<rect x="287.4" y="952.1" width="6.3" height="124.5" fill="#3592ee"/>
<text transform="translate(292.7,946.9) rotate(-90)" font-size="6.1" fill="#595959">55.769</text>
<rect x="295.5" y="1045.4" width="6.3" height="31.2" fill="#f4671b"/>
<text transform="translate(300.8,1040.2) rotate(-90)" font-size="6.1" fill="#595959">13.959</text>
<rect x="303.5" y="1049.3" width="6.3" height="27.3" fill="#13a550"/>
<text transform="translate(308.8,1044.1) rotate(-90)" font-size="6.1" fill="#595959">12.224</text>
<rect x="311.6" y="1054.9" width="6.3" height="21.7" fill="#c79ef3"/>
<text transform="translate(316.9,1049.7) rotate(-90)" font-size="6.1" fill="#595959">9.732</text>
<text x="302.3" y="1091.3" font-size="7.6" fill="#595959" text-anchor="middle">2564</text>
<rect x="319.6" y="972.0" width="6.3" height="104.6" fill="#3592ee"/>
<text transform="translate(324.9,966.8) rotate(-90)" font-size="6.1" fill="#595959">46.833</text>
<rect x="327.6" y="1076.2" width="6.3" height="0.4" fill="#f4671b"/>
<text transform="translate(332.9,1071.0) rotate(-90)" font-size="6.1" fill="#595959">0.199</text>
<rect x="335.7" y="1065.9" width="6.3" height="10.7" fill="#13a550"/>
<text transform="translate(341.0,1060.7) rotate(-90)" font-size="6.1" fill="#595959">4.801</text>
<rect x="343.7" y="1058.6" width="6.3" height="18.0" fill="#c79ef3"/>
<text transform="translate(349.0,1053.4) rotate(-90)" font-size="6.1" fill="#595959">8.071</text>
<text x="334.5" y="1091.3" font-size="7.6" fill="#595959" text-anchor="middle">2565</text>
<rect x="351.8" y="1012.4" width="6.3" height="64.2" fill="#3592ee"/>
<text transform="translate(357.1,1007.2) rotate(-90)" font-size="6.1" fill="#595959">28.756</text>
<rect x="359.9" y="1061.4" width="6.3" height="15.2" fill="#f4671b"/>
<text transform="translate(365.2,1056.2) rotate(-90)" font-size="6.1" fill="#595959">6.815</text>
<rect x="367.9" y="1034.9" width="6.3" height="41.7" fill="#13a550"/>
<text transform="translate(373.2,1029.7) rotate(-90)" font-size="6.1" fill="#595959">18.673</text>
<rect x="375.9" y="1059.7" width="6.3" height="16.9" fill="#c79ef3"/>
<text transform="translate(381.2,1054.5) rotate(-90)" font-size="6.1" fill="#595959">7.554</text>
<text x="366.7" y="1091.3" font-size="7.6" fill="#595959" text-anchor="middle">2566</text>
<rect x="384.0" y="1018.6" width="6.3" height="58.0" fill="#3592ee"/>
<text transform="translate(389.3,1013.4) rotate(-90)" font-size="6.1" fill="#595959">25.964</text>
<rect x="392.1" y="1072.1" width="6.3" height="4.5" fill="#f4671b"/>
<text transform="translate(397.4,1066.9) rotate(-90)" font-size="6.1" fill="#595959">2.031</text>
<rect x="400.1" y="1062.6" width="6.3" height="14.0" fill="#13a550"/>
<text transform="translate(405.4,1057.4) rotate(-90)" font-size="6.1" fill="#595959">6.287</text>
<rect x="408.2" y="1060.6" width="6.3" height="16.0" fill="#c79ef3"/>
<text transform="translate(413.5,1055.4) rotate(-90)" font-size="6.1" fill="#595959">7.178</text>
<text x="398.9" y="1091.3" font-size="7.6" fill="#595959" text-anchor="middle">2567</text>
<rect x="416.2" y="989.4" width="6.3" height="87.2" fill="#3592ee"/>
<text transform="translate(421.5,984.2) rotate(-90)" font-size="6.1" fill="#595959">39.048</text>
<rect x="424.2" y="1068.6" width="6.3" height="8.0" fill="#f4671b"/>
<text transform="translate(429.6,1063.4) rotate(-90)" font-size="6.1" fill="#595959">3.602</text>
<rect x="432.3" y="1061.4" width="6.3" height="15.2" fill="#13a550"/>
<text transform="translate(437.6,1056.2) rotate(-90)" font-size="6.1" fill="#595959">6.816</text>
<rect x="440.3" y="1061.1" width="6.3" height="15.5" fill="#c79ef3"/>
<text transform="translate(445.6,1055.9) rotate(-90)" font-size="6.1" fill="#595959">6.963</text>
<text x="431.1" y="1091.3" font-size="7.6" fill="#595959" text-anchor="middle">2568</text>
<text transform="translate(453.7,1071.4) rotate(-90)" font-size="6.1" fill="#595959">0.000</text>
<text transform="translate(461.8,1071.4) rotate(-90)" font-size="6.1" fill="#595959">0.000</text>
<text transform="translate(469.8,1071.4) rotate(-90)" font-size="6.1" fill="#595959">0.000</text>
<rect x="472.6" y="1074.6" width="6.3" height="2.0" fill="#c79ef3"/>
<text transform="translate(477.9,1069.4) rotate(-90)" font-size="6.1" fill="#595959">0.915</text>
<text x="463.3" y="1091.3" font-size="7.6" fill="#595959" text-anchor="middle">2569</text>
<rect x="143.0" y="1105.8" width="5" height="5" fill="#3592ee"/>
<text x="150.2" y="1110.7" font-size="7.2" fill="#595959" textLength="82.0" lengthAdjust="spacingAndGlyphs">ผลรวม ของ River Outlet</text>
<rect x="238.0" y="1105.8" width="5" height="5" fill="#f4671b"/>
<text x="245.2" y="1110.7" font-size="7.2" fill="#595959" textLength="72.8" lengthAdjust="spacingAndGlyphs">ผลรวม ของ Spill Way</text>
<rect x="324.4" y="1105.8" width="5" height="5" fill="#13a550"/>
<text x="331.6" y="1110.7" font-size="7.2" fill="#595959" textLength="64.0" lengthAdjust="spacingAndGlyphs">ผลรวม ของ กาลักน้ำ</text>
<rect x="402.6" y="1105.8" width="5" height="5" fill="#c79ef3"/>
<text x="409.8" y="1110.7" font-size="7.2" fill="#595959" textLength="59.0" lengthAdjust="spacingAndGlyphs">ผลรวม ของ ประปา</text>
</svg>
<div class="a" style="left:508.0px;top:895.3px;font-size:10.80px;color:#33933a;font-weight:bold;transform-origin:0 0;transform:scaleX(1.0135);">รูปภาพที่ 2-4 กราฟปริมาณน้ำฝนสะสม</div>
<svg style="left:0;top:880px;" width="1000" height="260" viewBox="0 880 1000 260">
<rect x="506.5" y="910.6" width="371.5" height="211.4" fill="#fff" stroke="#808080" stroke-width="1.4"/>
<path d="M692.60,932.30 A72.7,72.7 0 0 1 742.49,952.12 L717.51,978.59 A36.3,36.3 0 0 0 692.60,968.70 Z" fill="#3c63ad" stroke="#fff" stroke-width="0.9" stroke-linejoin="round"/>
<path d="M742.49,952.12 A72.7,72.7 0 0 1 765.06,1010.92 L728.78,1007.96 A36.3,36.3 0 0 0 717.51,978.59 Z" fill="#d16b28" stroke="#fff" stroke-width="0.9" stroke-linejoin="round"/>
<path d="M765.06,1010.92 A72.7,72.7 0 0 1 749.37,1050.41 L720.95,1027.68 A36.3,36.3 0 0 0 728.78,1007.96 Z" fill="#8d8d8d" stroke="#fff" stroke-width="0.9" stroke-linejoin="round"/>
<path d="M749.37,1050.41 A72.7,72.7 0 0 1 720.42,1072.17 L706.49,1038.54 A36.3,36.3 0 0 0 720.95,1027.68 Z" fill="#e4ab0d" stroke="#fff" stroke-width="0.9" stroke-linejoin="round"/>
<path d="M720.42,1072.17 A72.7,72.7 0 0 1 656.01,1067.82 L674.33,1036.37 A36.3,36.3 0 0 0 706.49,1038.54 Z" fill="#4c88c8" stroke="#fff" stroke-width="0.9" stroke-linejoin="round"/>
<path d="M656.01,1067.82 A72.7,72.7 0 0 1 623.14,1026.46 L657.92,1015.71 A36.3,36.3 0 0 0 674.33,1036.37 Z" fill="#5f9b3a" stroke="#fff" stroke-width="0.9" stroke-linejoin="round"/>
<path d="M623.14,1026.46 A72.7,72.7 0 0 1 624.90,978.50 L658.80,991.77 A36.3,36.3 0 0 0 657.92,1015.71 Z" fill="#8fa5d9" stroke="#fff" stroke-width="0.9" stroke-linejoin="round"/>
<path d="M624.90,978.50 A72.7,72.7 0 0 1 648.07,947.53 L670.37,976.31 A36.3,36.3 0 0 0 658.80,991.77 Z" fill="#f1a688" stroke="#fff" stroke-width="0.9" stroke-linejoin="round"/>
<path d="M648.07,947.53 A72.7,72.7 0 0 1 692.58,932.30 L692.59,968.70 A36.3,36.3 0 0 0 670.37,976.31 Z" fill="#c4c4c4" stroke="#fff" stroke-width="0.9" stroke-linejoin="round"/>
<path d="M692.58,932.30 A72.7,72.7 0 0 1 692.60,932.30 L692.60,968.70 A36.3,36.3 0 0 0 692.59,968.70 Z" fill="#ffd56a" stroke="#fff" stroke-width="0.9" stroke-linejoin="round"/>
<rect x="721.7" y="929.2" width="3.6" height="3.6" fill="#3c63ad"/>
<text x="730.1" y="933.2" font-size="6.3" fill="#595959">2560, 4,503.5</text>
<rect x="768.0" y="972.7" width="3.6" height="3.6" fill="#d16b28"/>
<text x="776.4" y="976.7" font-size="6.3" fill="#595959">2561, 5,336.0</text>
<rect x="766.2" y="1033.0" width="3.6" height="3.6" fill="#8d8d8d"/>
<text x="774.6" y="1037.0" font-size="6.3" fill="#595959">2562, 3,532.5</text>
<rect x="740.7" y="1069.7" width="3.6" height="3.6" fill="#e4ab0d"/>
<text x="749.1" y="1073.7" font-size="6.3" fill="#595959">2563, 2,998.0</text>
<rect x="663.2" y="1086.2" width="3.6" height="3.6" fill="#4c88c8"/>
<text x="671.6" y="1090.2" font-size="6.3" fill="#595959">2564, 5,479.0</text>
<rect x="582.6" y="1054.1" width="3.6" height="3.6" fill="#5f9b3a"/>
<text x="591.0" y="1058.1" font-size="6.3" fill="#595959">2565, 4,429.2</text>
<rect x="565.2" y="1000.5" width="3.6" height="3.6" fill="#8fa5d9"/>
<text x="573.6" y="1004.5" font-size="6.3" fill="#595959">2566, 4,006.4</text>
<rect x="580.0" y="954.0" width="3.6" height="3.6" fill="#f1a688"/>
<text x="588.4" y="958.0" font-size="6.3" fill="#595959">2567, 3,206.5</text>
<rect x="612.8" y="928.5" width="3.6" height="3.6" fill="#c4c4c4"/>
<text x="621.2" y="932.5" font-size="6.3" fill="#595959">2568, 3,923.5</text>
<rect x="672.3" y="920.7" width="3.6" height="3.6" fill="#ffd56a"/>
<text x="680.7" y="924.7" font-size="6.3" fill="#595959">2569, 2.0</text>
<rect x="544.8" y="1106" width="4" height="4" fill="#3c63ad"/>
<text x="552.2" y="1110.8" font-size="7.6" fill="#595959">2560</text>
<rect x="575.5" y="1106" width="4" height="4" fill="#d16b28"/>
<text x="582.9" y="1110.8" font-size="7.6" fill="#595959">2561</text>
<rect x="606.2" y="1106" width="4" height="4" fill="#8d8d8d"/>
<text x="613.6" y="1110.8" font-size="7.6" fill="#595959">2562</text>
<rect x="637.0" y="1106" width="4" height="4" fill="#e4ab0d"/>
<text x="644.4" y="1110.8" font-size="7.6" fill="#595959">2563</text>
<rect x="667.7" y="1106" width="4" height="4" fill="#4c88c8"/>
<text x="675.1" y="1110.8" font-size="7.6" fill="#595959">2564</text>
<rect x="698.4" y="1106" width="4" height="4" fill="#5f9b3a"/>
<text x="705.8" y="1110.8" font-size="7.6" fill="#595959">2565</text>
<rect x="729.1" y="1106" width="4" height="4" fill="#8fa5d9"/>
<text x="736.5" y="1110.8" font-size="7.6" fill="#595959">2566</text>
<rect x="759.8" y="1106" width="4" height="4" fill="#f1a688"/>
<text x="767.2" y="1110.8" font-size="7.6" fill="#595959">2567</text>
<rect x="790.6" y="1106" width="4" height="4" fill="#c4c4c4"/>
<text x="798.0" y="1110.8" font-size="7.6" fill="#595959">2568</text>
<rect x="821.3" y="1106" width="4" height="4" fill="#ffd56a"/>
<text x="828.7" y="1110.8" font-size="7.6" fill="#595959">2569</text>
</svg>
<div class="a" style="left:467.2px;top:1199.9px;font-size:21.00px;color:#2e75b6;font-weight:bold;transform-origin:0 0;transform:scaleX(1.0210);-webkit-text-stroke:0.8px #2e75b6;">SWOC</div>
<div class="a" style="left:177.0px;top:1230.5px;font-size:13.00px;color:#7f7f7f;transform-origin:0 0;transform:scaleX(0.9731);">http : // www.ranong.rid.go.th , facebook : ฝ่ายจัดสรรน้ำฯ คป.ระนอง , E-mail : watermanagement_ranong @ Hotmail.com</div>
<div class="a c" style="left:480px;width:40px;top:1250.3px;font-size:15px;color:#2e75b6;">2</div>
</body></html>
